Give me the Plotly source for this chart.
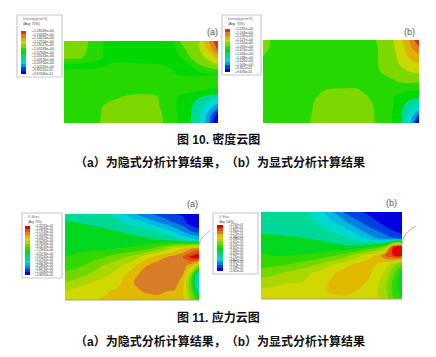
import plotly.graph_objects as go

W, H = 436, 357

# column / row stations across each panel (fractions of panel width / height)
col_pos = [0, .1, .2, .3, .4, .5, .6, .7, .76, .82, .88, .94, 1]
row_pos = [0, .1, .2, .3, .4, .5, .6, .7, .8, .9, 1]

density_colors = ["#0000e0", "#0040e0", "#00a0e0", "#00d8d8", "#00d8a0", "#00d870", "#00d800",
                  "#25d900", "#7dd800", "#c8d800", "#e0b000", "#e08020", "#e03010"]
stress_colors = ["#0000e0", "#0040e0", "#0080e0", "#00b8e0", "#00d8d0", "#00d898", "#00d860", "#00d820",
                 "#30d800", "#70d800", "#a8d800", "#d0d800", "#e0b800", "#d87c28", "#e05000", "#e00000"]

density_a = [
    [8.6, 8.5, 7.6, 6.5, 6.5, 6.5, 6.5, 6.7, 8.2, 8.6, 9.0, 11.0, 13],
    [8.6, 8.5, 7.5, 6.5, 6.5, 6.5, 6.5, 6.6, 7.5, 8.5, 8.98, 10.2, 12.2],
    [8.3, 8.2, 7.3, 6.7, 6.6, 6.5, 6.6, 6.6, 6.95, 8.0, 8.6, 9.3, 10.4],
    [6.6, 6.6, 6.7, 7.1, 7.2, 7.2, 7.1, 6.9, 6.6, 7.0, 7.9, 8.4, 8.9],
    [7.5, 7.5, 7.5, 7.5, 7.5, 7.5, 7.5, 7.1, 6.8, 6.7, 6.8, 6.9, 6.95],
    [7.5, 7.5, 7.5, 7.5, 7.5, 7.5, 7.5, 7.6, 7.6, 7.5, 7.5, 7.4, 7.3],
    [7.6, 7.6, 7.6, 7.7, 7.8, 7.8, 7.8, 7.5, 7.2, 7.2, 7.05, 6.9, 6.8],
    [7.6, 7.6, 7.7, 7.9, 8.1, 8.2, 8.1, 7.3, 6.8, 6.5, 5.9, 5.4, 5.0],
    [7.6, 7.7, 7.8, 8.2, 8.3, 8.3, 8.2, 7.3, 6.6, 6.1, 5.5, 4.4, 3.4],
    [7.6, 7.7, 7.8, 8.3, 8.4, 8.4, 8.3, 7.5, 6.7, 6.1, 5.2, 3.6, 1.5],
    [7.6, 7.7, 7.8, 8.4, 8.5, 8.5, 8.4, 7.5, 6.7, 6.0, 5.1, 3.2, 0.5],
]
density_b = [
    [8.4, 7.5, 7.4, 7.4, 7.4, 7.4, 7.4, 7.8, 8.3, 8.8, 9.6, 11.1, 13],
    [8.3, 7.5, 7.4, 7.4, 7.4, 7.4, 7.4, 7.7, 8.2, 8.7, 9.4, 10.7, 11.8],
    [8.0, 7.5, 7.4, 7.4, 7.4, 7.4, 7.4, 7.7, 8.2, 8.7, 9.2, 10.2, 10.7],
    [7.5, 7.4, 7.4, 7.4, 7.4, 7.4, 7.4, 7.7, 8.15, 8.5, 9.05, 9.5, 9.9],
    [7.4, 7.4, 7.4, 7.4, 7.4, 7.4, 7.4, 7.6, 8.0, 8.3, 8.6, 8.9, 9.0],
    [7.4, 7.4, 7.4, 7.4, 7.5, 7.5, 7.5, 7.5, 7.5, 7.8, 8.1, 8.2, 8.1],
    [7.4, 7.4, 7.4, 7.5, 8.0, 8.1, 8.1, 7.6, 7.4, 7.3, 7.2, 7.1, 7.05],
    [7.4, 7.4, 7.5, 7.8, 8.3, 8.4, 8.4, 7.9, 7.4, 7.1, 6.7, 6.2, 6.0],
    [7.4, 7.4, 7.5, 7.9, 8.4, 8.4, 8.4, 8.05, 7.6, 7.2, 6.4, 5.3, 4.8],
    [7.4, 7.4, 7.5, 7.95, 8.4, 8.5, 8.5, 8.1, 7.6, 7.1, 6.2, 4.8, 2.8],
    [7.4, 7.4, 7.5, 8.0, 8.5, 8.5, 8.5, 8.2, 7.6, 7.1, 6.2, 4.3, 0.5],
]
stress_a = [
    [6.6, 6.7, 6.8, 6.5, 5.5, 4.3, 3.2, 2.7, 2.4, 2.1, 1.8, 0.7, 0.3],
    [7.1, 7.0, 6.9, 6.8, 6.3, 5.6, 5.0, 4.0, 3.4, 2.9, 2.4, 1.4, 0.9],
    [7.3, 7.3, 7.2, 7.1, 7.0, 6.8, 6.5, 6.0, 5.5, 4.7, 3.9, 3.0, 2.5],
    [7.5, 7.5, 7.5, 7.4, 7.4, 7.3, 7.2, 7.0, 6.8, 6.4, 6.0, 5.4, 5.0],
    [7.7, 7.8, 7.8, 7.9, 8.0, 8.2, 8.5, 9.5, 10.5, 11.3, 12, 12.8, 13.5],
    [8.0, 8.2, 8.5, 9.0, 9.6, 10.3, 11.5, 12.6, 13, 13.4, 14, 15.3, 16],
    [8.4, 8.8, 9.4, 10.1, 10.8, 11.6, 12.9, 13.5, 13.6, 13.6, 13.5, 12.5, 10],
    [9.3, 9.6, 10.1, 10.8, 11.4, 12.5, 13.5, 13.7, 13.8, 13.6, 13.1, 10, 5],
    [10.0, 10.5, 11, 11.4, 11.8, 12.9, 13.6, 13.8, 13.8, 13.4, 12.4, 9, 4.5],
    [11.2, 11.4, 11.6, 11.9, 12.2, 12.7, 13.1, 13.2, 13.0, 12.9, 12.2, 9.5, 6],
    [11.6, 11.8, 11.9, 12.1, 12.3, 12.5, 12.6, 12.7, 12.6, 12.5, 12.2, 10, 8],
]
stress_b = [
    [6.3, 6.2, 6.2, 6.2, 5.8, 4.2, 2.8, 2.1, 1.8, 1.5, 0.9, 0.6, 0.4],
    [6.5, 6.4, 6.4, 6.3, 5.9, 5.0, 3.9, 2.9, 2.4, 2.0, 1.4, 0.9, 0.7],
    [6.8, 6.7, 6.7, 6.6, 6.3, 5.8, 5.2, 4.0, 3.3, 2.9, 2.3, 1.8, 1.3],
    [7.2, 7.2, 7.1, 7.0, 6.9, 6.6, 6.1, 5.3, 4.6, 4.0, 3.5, 3.0, 2.7],
    [7.5, 7.5, 7.5, 7.5, 7.4, 7.3, 7.2, 7.4, 7.9, 8.5, 9.5, 15.0, 15.8],
    [8.2, 8.0, 8.0, 8.1, 8.3, 8.8, 9.5, 10.8, 11.5, 12.2, 13.9, 15.1, 15.1],
    [8.6, 8.7, 9, 9.4, 10, 10.8, 11.6, 12.3, 12.5, 12.0, 11.4, 10.4, 9],
    [9.5, 9.8, 10.2, 10.7, 11.2, 11.8, 12.5, 12.5, 12.3, 11.5, 10.9, 9.3, 7.5],
    [10.3, 10.6, 10.9, 11, 11.5, 12.1, 12.6, 12.4, 11.9, 11.3, 10.5, 8.7, 7.2],
    [11.2, 11.3, 11.4, 11.5, 11.7, 12.2, 12.4, 11.9, 11.5, 11.1, 10.3, 8.6, 7.5],
    [11.4, 11.4, 11.5, 11.5, 11.6, 11.7, 11.7, 11.5, 11.4, 11.2, 10.5, 9, 8],
]

density_ticks_a = ["+1.18149e+00", "+1.16332e+00", "+1.14520e+00", "+1.12704e+00", "+1.11017e+00",
                   "+1.09183e+00", "+1.07369e+00", "+1.05543e+00", "+1.03726e+00", "+1.01950e+00",
                   "+1.00231e+00", "+9.85211e-01", "+9.67440e-01"]
density_ticks_b = ["+1.181e+00", "+1.163e+00", "+1.145e+00", "+1.127e+00", "+1.110e+00", "+1.092e+00",
                   "+1.074e+00", "+1.056e+00", "+1.038e+00", "+1.020e+00", "+1.003e+00", "+9.851e-01",
                   "+9.676e-01"]
stress_ticks_a = ["+1.32359e+01", "+1.24939e+01", "+1.17519e+01", "+1.10099e+01", "+1.02679e+01",
                  "+9.52592e+00", "+8.78392e+00", "+8.04192e+00", "+7.29992e+00", "+6.55792e+00",
                  "+5.81592e+00", "+5.07392e+00", "+4.33192e+00", "+3.58992e+00", "+2.84792e+00",
                  "+2.10592e+00", "+1.36392e+00"]
stress_ticks_b = ["+1.535e+01", "+1.448e+01", "+1.360e+01", "+1.273e+01", "+1.185e+01", "+1.098e+01",
                  "+1.011e+01", "+9.231e+00", "+8.357e+00", "+7.483e+00", "+6.609e+00", "+5.735e+00",
                  "+4.861e+00", "+3.987e+00", "+3.113e+00", "+2.239e+00", "+1.365e+00"]

captions = ["图 10. 密度云图", "（a）为隐式分析计算结果，（b）为显式分析计算结果",
            "图 11. 应力云图", "（a）为隐式分析计算结果，（b）为显式分析计算结果"]


def hx(px):
    return px / W


def vy(py):
    return 1 - py / H


def stepped(colors):
    n = len(colors)
    out = []
    for i, c in enumerate(colors):
        out += [[i / n, c], [(i + 1) / n, c]]
    return out


def fill_scale(colors):
    # a filled contour band k is coloured at position (k + 1.5) / n of this scale
    n = len(colors)
    out = [[0, colors[0]]]
    for i in range(n - 1):
        out += [[(i + 1) / n, colors[i]], [min((i + 2) / n, 1) - 1e-6, colors[i]]]
    out.append([1, colors[-1]])
    return out


fig = go.Figure()
layout = dict(width=W, height=H, margin=dict(l=0, r=0, t=0, b=0), autosize=False,
              paper_bgcolor="white", plot_bgcolor="white", showlegend=False,
              shapes=[], annotations=[])
axis_n = 0


def new_axes(x0, x1, y0, y1, xr, yr):
    global axis_n
    axis_n += 1
    s = "" if axis_n == 1 else str(axis_n)
    common = dict(visible=False, fixedrange=True)
    layout["xaxis" + s] = dict(domain=[hx(x0), hx(x1)], range=xr, anchor="y" + s, **common)
    layout["yaxis" + s] = dict(domain=[vy(y1), vy(y0)], range=yr, anchor="x" + s, **common)
    return "x" + s, "y" + s


def text(x, y, t, size, color="#222", anchor="left", family="Liberation Sans, Noto Sans CJK SC"):
    layout["annotations"].append(dict(x=hx(x), y=vy(y), xref="paper", yref="paper", text=t, showarrow=False,
                                      xanchor=anchor, yanchor="middle", align=anchor,
                                      font=dict(size=size, color=color, family=family)))


def panel(z, colors, box):
    xa, ya = new_axes(*box, [0, 1], [1, 0])
    fig.add_trace(go.Contour(x=col_pos, y=row_pos, z=z, xaxis=xa, yaxis=ya, zmin=0, zmax=len(colors),
                             colorscale=fill_scale(colors), showscale=False, hoverinfo="skip",
                             autocontour=False,
                             contours=dict(start=0, end=len(colors) - 1, size=1, coloring="fill", showlines=False),
                             line=dict(width=0, smoothing=1)))


def legend(colors, ticks, title, sub, box, sw, label_x, fs):
    layout["shapes"].append(dict(type="rect", xref="paper", yref="paper", x0=hx(box[0]), x1=hx(box[1]),
                                 y0=vy(box[3]), y1=vy(box[2]), line=dict(color="#c8c8c8", width=1.2),
                                 fillcolor="white", layer="below"))
    n = len(colors)
    xa, ya = new_axes(*sw, [0, 1], [n, 0])
    fig.add_trace(go.Heatmap(x=[0.5], y=[i + .5 for i in range(n)], z=[[n - 1 - i + .5] for i in range(n)],
                             xaxis=xa, yaxis=ya, zmin=0, zmax=n, colorscale=stepped(colors),
                             showscale=False, hoverinfo="skip", xgap=0, ygap=0))
    text(box[0] + 4, box[2] + 4, title, fs, "#666")
    text(box[0] + 4, box[2] + 9, sub, fs, "#333")
    m = len(ticks)
    for i, t in enumerate(ticks):
        text(label_x, sw[2] + (sw[3] - sw[2]) * i / (m - 1), t, fs, "#333")


panel(density_a, density_colors, (64, 218, 41, 123))
panel(density_b, density_colors, (263, 419, 40, 123))
panel(stress_a, stress_colors, (65, 199, 214, 300))
panel(stress_b, stress_colors, (261, 402, 212, 299))

legend(density_colors, density_ticks_a, "Density(g/cm^3)", "(Avg: 75%)", (17, 62, 15, 77), (21, 26, 31, 74), 30, 3.4)
legend(density_colors, density_ticks_b, "Density(g/cm^3)", "(Avg: 75%)", (222, 261, 15, 75), (225, 230, 29, 72), 233, 3.4)
legend(stress_colors, stress_ticks_a, "S, Mises", "(Avg: 75%)", (22, 62, 213, 278), (25, 30, 226, 275), 33, 2.8)
legend(stress_colors, stress_ticks_b, "S, Mises", "(Avg: 100%)", (213, 258, 213, 274), (217, 223, 225, 271), 227, 2.7)

for x, y, t in [(212, 32, "(a)"), (409, 32, "(b)"), (192, 204, "(a)"), (391, 203, "(b)")]:
    text(x, y, t, 9, "#555", "center")

text(218, 140, "<b>" + captions[0] + "</b>", 12, "#111", "center")
text(220, 163, "<b>" + captions[1] + "</b>", 12, "#111", "center")
text(218, 317, "<b>" + captions[2] + "</b>", 12, "#111", "center")
text(220, 341, "<b>" + captions[3] + "</b>", 12, "#111", "center")

# thin base lines under the stress panels and the small grey arcs beside them
for x0, x1, y in [(65, 199, 300), (261, 402, 299)]:
    layout["shapes"].append(dict(type="line", xref="paper", yref="paper", x0=hx(x0), x1=hx(x1), y0=vy(y), y1=vy(y),
                                 line=dict(color="#a8a860", width=1)))
for x0, y0, cx, cy, x1, y1 in [(199, 245, 201, 236, 210, 231), (402, 245, 403, 232, 416, 226)]:
    path = f"M {hx(x0)} {vy(y0)} Q {hx(cx)} {vy(cy)} {hx(x1)} {vy(y1)}"
    layout["shapes"].append(dict(type="path", xref="paper", yref="paper", path=path, line=dict(color="#999", width=0.8)))

fig.update_layout(**layout)
fig.write_html("out.html", config=dict(displayModeBar=False),
               post_script="document.body.style.margin='0';document.body.style.overflow='hidden';"
                           "var g=document.getElementById('{plot_id}');g.style.textSpacingTrim='space-all';"
                           "Plotly.redraw(g);")
